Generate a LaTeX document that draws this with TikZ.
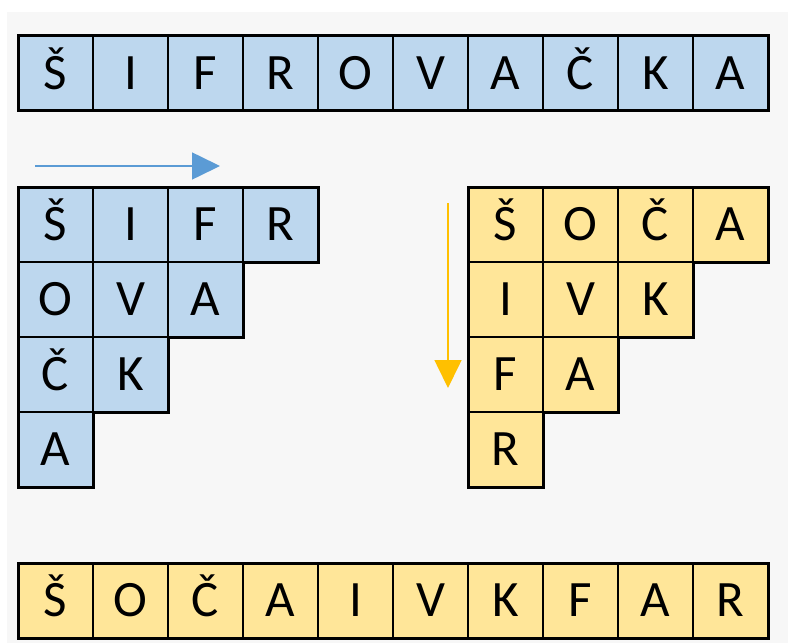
\documentclass[tikz,border=0pt]{standalone}
\usepackage{fontspec}
\setmainfont{Carlito}
\usetikzlibrary{arrows.meta}
\definecolor{bgray}{HTML}{F7F7F7}
\definecolor{cblue}{HTML}{BDD7EE}
\definecolor{cyel}{HTML}{FFE699}
\definecolor{ablue}{HTML}{5B9BD5}
\definecolor{ayel}{HTML}{FFC000}
\tikzset{
  cell/.style={draw=black, line width=1.8pt, minimum width=75pt, minimum height=75pt, inner sep=0pt, outer sep=0pt,
    font=\fontsize{51}{55}\selectfont, text height=32pt, text depth=0pt},
  bcell/.style={cell, fill=cblue},
  ycell/.style={cell, fill=cyel},
  outline/.style={draw=black, line width=3pt, line join=miter},
  arr/.style={line width=1.6pt, -{Triangle[length=28pt,width=27pt]}}
}
\begin{document}
\begin{tikzpicture}[x=1pt,y=-1pt]
\useasboundingbox (0,0) rectangle (788,643);
\fill[white] (0,0) rectangle (788,643);
\fill[bgray] (7,12) rectangle (788,643);
% top row
\foreach \l [count=\i] in {Š,I,F,R,O,V,A,Č,K,A}
  \node[bcell] (t\i) at ({18+37.5+75*(\i-1)},73) {\l};
\draw[outline] (t1.north west) rectangle (t10.south east);
% left block
\foreach \l [count=\i] in {Š,I,F,R} \node[bcell] (la\i) at ({55.5+75*(\i-1)},224.5) {\l};
\foreach \l [count=\i] in {O,V,A} \node[bcell] (lb\i) at ({55.5+75*(\i-1)},299.5) {\l};
\foreach \l [count=\i] in {Č,K} \node[bcell] (lc\i) at ({55.5+75*(\i-1)},374.5) {\l};
\node[bcell] (ld1) at (55.5,449.5) {A};
\draw[outline] (la1.north west) -- (la4.north east) -- (la4.south east) -- (lb3.north east)
  -- (lb3.south east) -- (lc2.north east) -- (lc2.south east) -- (ld1.north east)
  -- (ld1.south east) -- (ld1.south west) -- cycle;
% right block
\foreach \l [count=\i] in {Š,O,Č,A} \node[ycell] (ra\i) at ({505.5+75*(\i-1)},224.5) {\l};
\foreach \l [count=\i] in {I,V,K} \node[ycell] (rb\i) at ({505.5+75*(\i-1)},299.5) {\l};
\foreach \l [count=\i] in {F,A} \node[ycell] (rc\i) at ({505.5+75*(\i-1)},374.5) {\l};
\node[ycell] (rd1) at (505.5,449.5) {R};
\draw[outline] (ra1.north west) -- (ra4.north east) -- (ra4.south east) -- (rb3.north east)
  -- (rb3.south east) -- (rc2.north east) -- (rc2.south east) -- (rd1.north east)
  -- (rd1.south east) -- (rd1.south west) -- cycle;
% bottom row
\foreach \l [count=\i] in {Š,O,Č,A,I,V,K,F,A,R}
  \node[ycell] (b\i) at ({18+37.5+75*(\i-1)},600.5) {\l};
\draw[outline] (b1.north west) rectangle (b10.south east);
% arrows
\coordinate (bs) at (35,166);
\coordinate (be) at (220,166);
\draw[arr, ablue] (bs) -- (be);
\coordinate (ys) at (448,203);
\coordinate (ye) at (448,388);
\draw[arr, ayel] (ys) -- (ye);
\end{tikzpicture}
\end{document}
